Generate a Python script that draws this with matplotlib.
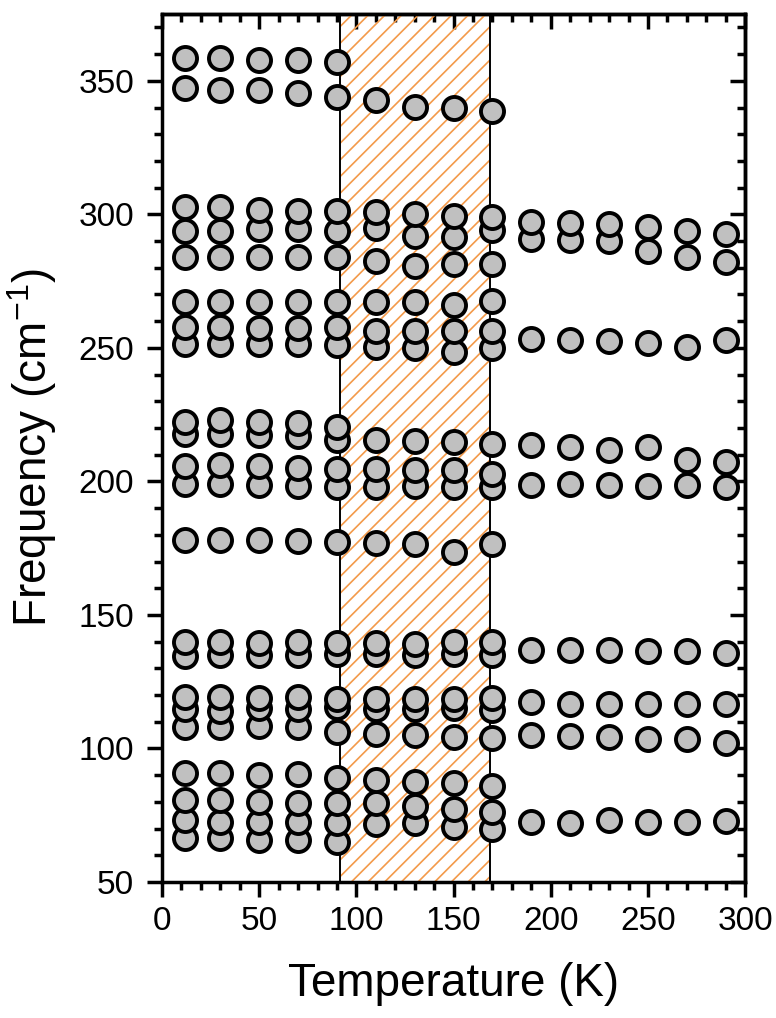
import numpy as np
import matplotlib
matplotlib.use("Agg")
import matplotlib.pyplot as plt

plt.rcParams['font.family'] = ['Liberation Sans', 'DejaVu Sans']
plt.rcParams['mathtext.fontset'] = 'custom'
plt.rcParams['mathtext.rm'] = 'Liberation Sans'
plt.rcParams['mathtext.it'] = 'Liberation Sans'
plt.rcParams['hatch.linewidth'] = 1.2

nan = np.nan

# Temperaturas (K)
temps = [12, 30, 50, 70, 90, 110, 130, 150, 170, 190, 210, 230, 250, 270, 290]

# Frecuencias de cada modo (cm-1), de menor a mayor
m01 = [66.3, 66.3, 65.7, 65.8, 65.0, nan, nan, nan, nan, nan, nan, nan, nan, nan, nan]
m02 = [73.2, 72.6, 72.6, 72.5, 72.1, 71.9, 72.1, 70.7, 69.7, 72.5, 72.1, 73.2, 72.5, 72.5, 72.9]
m03 = [80.7, 80.7, 80.0, 79.6, 79.6, 79.6, 78.3, 77.3, 76.3, nan, nan, nan, nan, nan, nan]
m04 = [90.9, 90.9, 90.0, 90.4, 89.1, 88.2, 87.5, 86.9, 85.8, nan, nan, nan, nan, nan, nan]
m05 = [108.1, 108.1, 108.3, 108.1, 106.1, 105.5, 104.9, 104.3, 104.1, 105.0, 104.6, 104.4, 103.4, 103.4, 101.9]
m06 = [114.6, 114.2, 115.2, 114.6, 115.5, 114.6, 114.8, 115.1, 114.5, nan, nan, nan, nan, nan, nan]
m07 = [119.1, 119.1, 118.9, 119.1, 118.5, 118.5, 118.5, 118.5, 118.8, 117.4, 116.8, 116.8, 116.6, 116.6, 116.6]
m08 = [134.5, 134.9, 134.9, 134.9, 135.5, 135.5, 134.9, 135.5, 134.9, nan, nan, nan, nan, nan, nan]
m09 = [139.9, 139.9, 139.5, 139.9, 139.5, 139.5, 139.3, 139.9, 139.9, 137.0, 136.8, 136.8, 136.5, 136.5, 135.9]
m10 = [178.2, 177.9, 177.9, 177.7, 177.3, 176.9, 176.5, 173.6, 176.7, nan, nan, nan, nan, nan, nan]
m11 = [198.9, 198.9, 198.5, 198.1, 197.9, 197.9, 198.1, 197.9, 197.9, 198.5, 198.9, 198.5, 198.1, 198.5, 197.9]
m12 = [205.6, 206.0, 205.6, 205.1, 204.7, 204.7, 204.1, 204.3, 202.9, nan, nan, nan, nan, nan, nan]
m13 = [217.8, 217.8, 217.2, 216.9, 215.6, 215.6, 215.1, 214.7, 214.1, 213.5, 212.9, 211.9, 212.9, 207.9, 207.3]
m14 = [222.2, 223.1, 222.2, 221.8, 220.3, nan, nan, nan, nan, nan, nan, nan, nan, nan, nan]
m15 = [251.5, 251.5, 251.3, 251.3, 251.1, 250.2, 249.8, 248.4, 250.0, 253.4, 253.1, 252.4, 251.8, 250.5, 252.8]
m16 = [258.0, 258.0, 257.5, 257.5, 258.0, 256.5, 256.5, 256.5, 256.5, nan, nan, nan, nan, nan, nan]
m17 = [267.1, 267.1, 267.1, 267.1, 267.3, 267.1, 267.1, 266.2, 267.5, nan, nan, nan, nan, nan, nan]
m18 = [283.9, 283.9, 284.1, 284.1, 284.1, 282.7, 280.8, 281.5, 281.4, 290.9, 290.5, 290.0, 286.4, 284.2, 282.3]
m19 = [293.9, 293.9, 294.6, 294.6, 293.9, 294.8, 292.0, 291.4, 294.2, nan, nan, nan, nan, nan, nan]
m20 = [302.6, 302.6, 301.8, 301.4, 301.4, 300.7, 300.1, 299.4, 298.9, 297.0, 296.8, 296.2, 295.3, 293.9, 292.7]
m21 = [347.3, 346.5, 346.5, 345.6, 343.8, 343.0, 340.3, 339.8, 338.8, nan, nan, nan, nan, nan, nan]
m22 = [358.5, 358.5, 357.7, 357.7, 356.9, nan, nan, nan, nan, nan, nan, nan, nan, nan, nan]

modos = [m01, m02, m03, m04, m05, m06, m07, m08, m09, m10, m11,
         m12, m13, m14, m15, m16, m17, m18, m19, m20, m21, m22]

# Zona sombreada (K)
zona = (91.5, 168.5)

fig = plt.figure(figsize=(7.76, 10.18), dpi=100)
ax = fig.add_axes([0.2088, 0.1336, 0.7515, 0.8526])

# zona rayada naranja
ax.axvspan(zona[0], zona[1], facecolor='none', edgecolor='#F39A4A',
           hatch='//', linewidth=0, zorder=1)
ax.axvline(zona[0], color='black', linewidth=1.4, zorder=1.5)
ax.axvline(zona[1], color='black', linewidth=1.4, zorder=1.5)

# puntos
for m in modos:
    ax.plot(temps, m, linestyle='none', marker='o', markersize=16.6,
            markerfacecolor='#C0C0C0', markeredgecolor='black',
            markeredgewidth=2.8, zorder=3)

ax.set_xlim(0, 300)
ax.set_ylim(50, 375)
ax.set_xticks(np.arange(0, 301, 50))
ax.set_xticks(np.arange(0, 301, 10), minor=True)
ax.set_yticks(np.arange(50, 351, 50))
ax.set_yticks(np.arange(50, 376, 10), minor=True)

for s in ax.spines.values():
    s.set_linewidth(2.5)

ax.tick_params(which='both', direction='out', width=2.5, labelsize=24,
               top=False, right=False)
ax.tick_params(which='major', length=11)
ax.tick_params(which='minor', length=5.5)
ax.tick_params(axis='y', pad=9)
ax.tick_params(axis='x', pad=6)

# ticks interiores arriba y a la derecha
ax2 = ax.secondary_xaxis('top')
ax2.set_xticks(np.arange(0, 301, 50))
ax2.set_xticks(np.arange(0, 301, 10), minor=True)
ax2.tick_params(which='both', direction='in', width=2.5, labeltop=False)
ax2.tick_params(which='major', length=11)
ax2.tick_params(which='minor', length=5.5)
ax2.spines['top'].set_linewidth(2.5)
ax3 = ax.secondary_yaxis('right')
ax3.set_yticks(np.arange(50, 351, 50))
ax3.set_yticks(np.arange(50, 376, 10), minor=True)
ax3.tick_params(which='both', direction='in', width=2.5, labelright=False)
ax3.tick_params(which='major', length=11)
ax3.tick_params(which='minor', length=5.5)
ax3.spines['right'].set_linewidth(2.5)

ax.set_xlabel('Temperature (K)', fontsize=33, labelpad=18)
ax.set_ylabel('Frequency (cm$^{-1}$)', fontsize=33, labelpad=14)

fig.savefig('out.png', dpi=100)
